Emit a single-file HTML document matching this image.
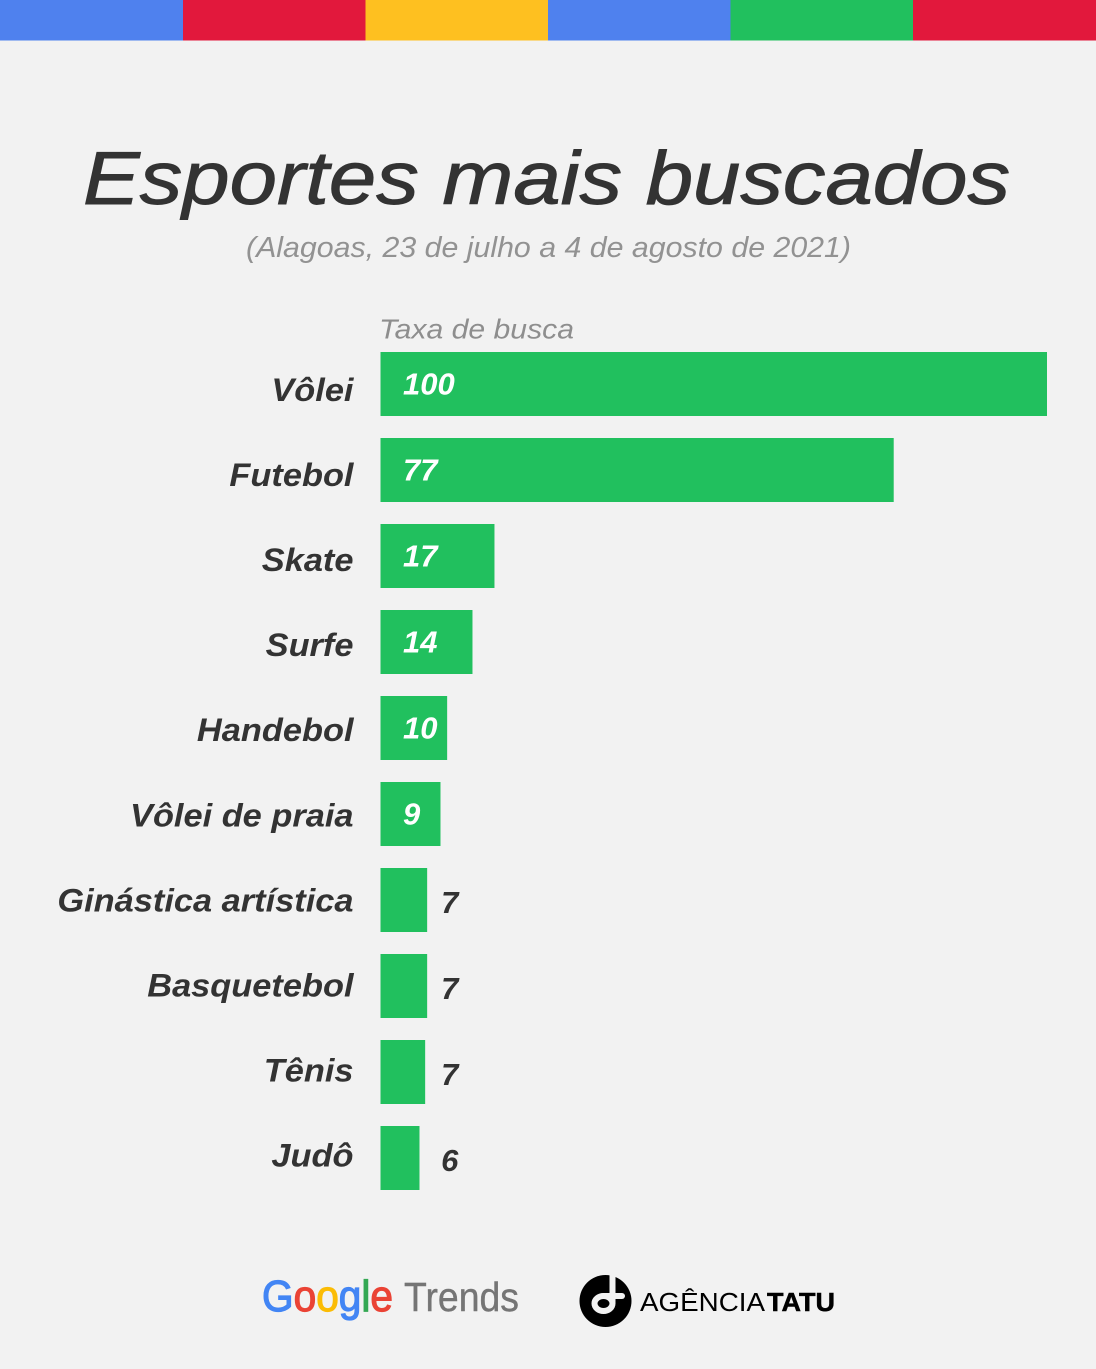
<!DOCTYPE html>
<html lang="pt">
<head>
<meta charset="utf-8">
<title>Esportes mais buscados</title>
<style>
html,body{margin:0;padding:0;background:#f2f2f2;}
svg{display:block;}
text{font-family:"Liberation Sans",Arial,sans-serif;}
</style>
</head>
<body>
<svg id="chart" xmlns="http://www.w3.org/2000/svg" width="1096" height="1369" viewBox="0 0 1096 1369">
  <rect x="0" y="0" width="1096" height="1369" fill="#f2f2f2"/>
  <g>
    <rect x="0" y="0" width="183" height="40.500" fill="#4f81ee"/>
    <rect x="183" y="0" width="182.500" height="40.500" fill="#e2183c"/>
    <rect x="365.500" y="0" width="182.500" height="40.500" fill="#fec020"/>
    <rect x="548" y="0" width="182.500" height="40.500" fill="#4f81ee"/>
    <rect x="730.500" y="0" width="182.500" height="40.500" fill="#21c05e"/>
    <rect x="913" y="0" width="183" height="40.500" fill="#e2183c"/>
  </g>
  <text x="83" y="204" font-size="75" font-style="italic" fill="#333333" stroke="#333333" stroke-width="0.9" textLength="927" lengthAdjust="spacingAndGlyphs">Esportes mais buscados</text>
  <text x="246" y="257" font-size="29" font-style="italic" fill="#929292" textLength="605" lengthAdjust="spacingAndGlyphs">(Alagoas, 23 de julho a 4 de agosto de 2021)</text>
  <text x="379" y="338.500" font-size="28" font-style="italic" fill="#8e8e8e" textLength="195" lengthAdjust="spacingAndGlyphs">Taxa de busca</text>
  <g id="category-labels"></g>
  <g id="bars"></g>
  <g id="value-labels"></g>

  <g>
    <text x="262" y="1311" font-size="44" stroke-width="1.200" textLength="131" lengthAdjust="spacingAndGlyphs"><tspan fill="#4285f4" stroke="#4285f4">G</tspan><tspan fill="#ea4335" stroke="#ea4335">o</tspan><tspan fill="#fbbc05" stroke="#fbbc05">o</tspan><tspan fill="#4285f4" stroke="#4285f4">g</tspan><tspan fill="#34a853" stroke="#34a853">l</tspan><tspan fill="#ea4335" stroke="#ea4335">e</tspan></text>
    <text x="404" y="1311" font-size="41" fill="#757575" stroke="#757575" stroke-width="0.400" textLength="115" lengthAdjust="spacingAndGlyphs">Trends</text>
  </g>
  <g>
    <circle cx="605.500" cy="1301" r="26" fill="#000000"/>
    <g fill="none" stroke="#f2f2f2" stroke-width="6">
      <ellipse cx="603.500" cy="1303.500" rx="9" ry="7.500"/>
      <line x1="612.500" y1="1274" x2="612.500" y2="1304"/>
      <line x1="603.500" y1="1296" x2="622" y2="1296" stroke-linecap="round"/>
    </g>
    <text x="640" y="1311" font-size="26" fill="#000000" textLength="125" lengthAdjust="spacingAndGlyphs">AGÊNCIA</text>
    <text x="767" y="1311" font-size="26" font-weight="bold" fill="#000000" stroke="#000000" stroke-width="0.500" textLength="68" lengthAdjust="spacingAndGlyphs">TATU</text>
  </g>
</svg>

<script>
const categories = ["Vôlei", "Futebol", "Skate", "Surfe", "Handebol", "Vôlei de praia", "Ginástica artística", "Basquetebol", "Tênis", "Judô"];
const searchRate = [100, 77, 17.1, 13.8, 10, 9, 7, 7, 6.7, 5.85];

const SVG_NS = "http://www.w3.org/2000/svg";
const PLOT_LEFT = 380.5;
const PLOT_WIDTH = 666.5;
const MAX_VALUE = 100;
const BAR_TOP = 352;
const BAR_STEP = 86;
const BAR_HEIGHT = 64;
const LABEL_WIDTH_FACTOR = 1.074;

function xScale(value) {
  return PLOT_LEFT + (value / MAX_VALUE) * PLOT_WIDTH;
}
function barY(index) {
  return BAR_TOP + index * BAR_STEP;
}
function categoryBaseline(index) {
  return 401 + index * (BAR_STEP - 0.95);
}

const barsGroup = document.getElementById("bars");
const catGroup = document.getElementById("category-labels");
const valGroup = document.getElementById("value-labels");

categories.forEach(function (name, i) {
  const value = searchRate[i];

  const bar = document.createElementNS(SVG_NS, "rect");
  
  
  bar.setAttribute("x", PLOT_LEFT);
  bar.setAttribute("y", barY(i));
  bar.setAttribute("width", xScale(value) - PLOT_LEFT);
  bar.setAttribute("height", BAR_HEIGHT);
  bar.setAttribute("fill", "#21c05e");
  barsGroup.appendChild(bar);

  const cat = document.createElementNS(SVG_NS, "text");
  
  
  cat.setAttribute("y", categoryBaseline(i));
  cat.setAttribute("font-size", "32");
  cat.setAttribute("font-weight", "bold");
  cat.setAttribute("font-style", "italic");
  cat.setAttribute("fill", "#333333");
  cat.textContent = name;
  catGroup.appendChild(cat);
  const catWidth = cat.getComputedTextLength() * LABEL_WIDTH_FACTOR;
  cat.setAttribute("x", 353.5 - catWidth);
  cat.setAttribute("textLength", catWidth);
  cat.setAttribute("lengthAdjust", "spacingAndGlyphs");

  const rounded = Math.round(value);
  const inside = rounded >= 9;
  const val = document.createElementNS(SVG_NS, "text");
  
  
  val.setAttribute("x", inside ? PLOT_LEFT + 22.5 : xScale(7) + 14);
  val.setAttribute("y", barY(i) + (inside ? 42.5 : 45));
  val.setAttribute("font-size", "31");
  val.setAttribute("font-weight", "bold");
  val.setAttribute("font-style", "italic");
  val.setAttribute("fill", inside ? "#ffffff" : "#333333");
  val.textContent = String(rounded);
  valGroup.appendChild(val);
});
</script>
</body>
</html>
